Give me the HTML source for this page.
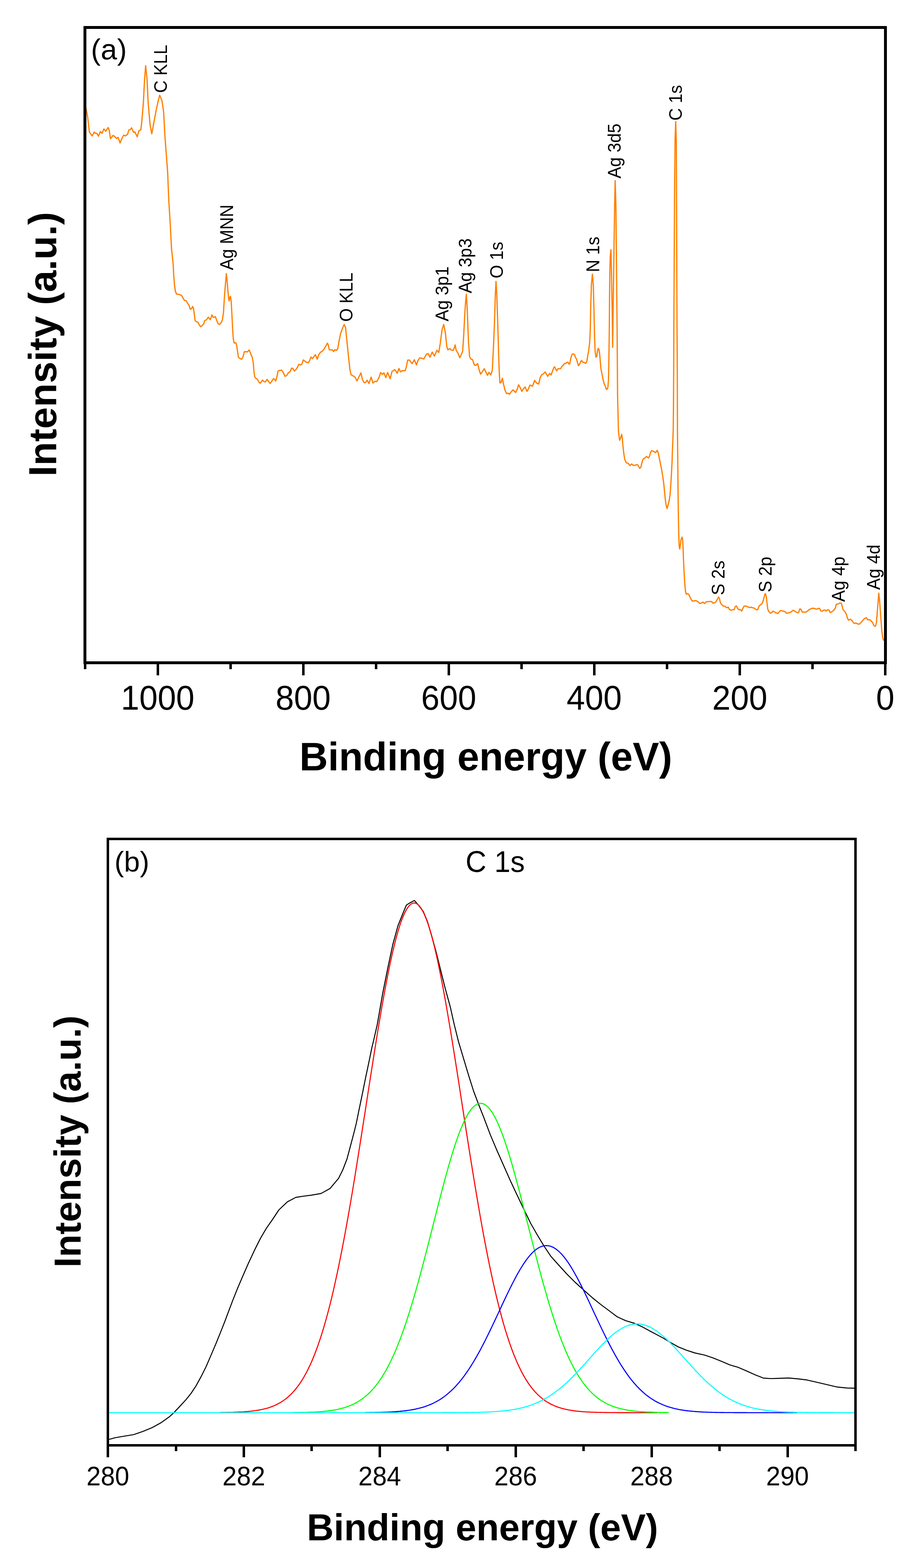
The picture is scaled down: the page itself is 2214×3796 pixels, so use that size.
<!DOCTYPE html>
<html><head><meta charset="utf-8"><title>XPS spectra</title>
<style>
html,body{margin:0;padding:0;background:#fff;}
body{width:2214px;height:3796px;overflow:hidden;}
svg{display:block;font-family:"Liberation Sans",Arial,Helvetica,sans-serif;}
</style></head><body>
<svg width="2214" height="3796" viewBox="0 0 2214 3796">
<rect width="2214" height="3796" fill="#fff"/>
<path d="M207 258L209.5 268.6L212.2 284.2L216.3 319.6L219 323.7L223.1 329.1L227.9 319.6L231.3 323L234.7 323L238.1 329.8L242.9 318.2L246.9 323L251.4 312.1L255.8 317.6L261.9 308.7L264.6 316.9L267.3 335.9L273.5 327.8L277.6 330.5L281.6 335.2L285.7 332.5L290.5 346.1L295.2 334.6L299.3 327.1L303.4 329.1L308.8 325L311.6 314.8L315 314.1L318.4 309.4L323.1 320.3L326.5 319.6L332 331.2L336.1 316.9L340.8 314.1L342.9 296.5L346.9 248.8L349.7 194.4L352.4 159L355.8 191.7L358.5 248.8L363.3 303.3L367.3 323.7L372.8 293.7L378.2 265.2L383 243.4L386.4 230.5L391.8 243.4L395.9 270.6L399.3 333.2L400.8 352.4L405.7 417.8L408.3 483.2L412.3 548.7L414.9 601L419 640L420.4 667.2L422.4 691.7L424.5 705.3L427.2 712.1L434 712.8L439.5 715.5L442.9 721.6L446.3 727.1L451 728.4L453.7 733.9L457.1 738.6L460.5 748.8L463.3 747.5L466 742L468 746.1L470.1 759.7L472.1 776.1L475.5 778.8L478.9 780.1L482.3 786.9L485.7 791L489.8 787.6L493.2 783.5L495.2 776.1L499.3 774.7L504.1 767.9L508.8 774L512.9 762.4L516.3 768.6L521.1 766.5L524.5 776.1L527.9 784.2L531.3 785.6L534.7 781.5L538.1 774.7L540.8 755.6L542.9 721.6L544.9 694.4L546.7 674L547.6 662.5L549 674L551 698.5L553.1 721.6L554.4 728.4L556.5 718.9L557.8 717.6L559.2 728.4L560.5 748.8L561.9 776.1L563.3 803.3L564.6 821L566.7 830.5L570.7 829.8L572.8 837.3L574.8 850.9L576.9 864.5L579.6 867.2L584.4 869.9L587.8 864.5L591.4 851.2L595.9 851.5L598.6 852L603 847.2L606.5 856.4L610.1 864.3L612.7 876.7L614.5 899.7L616.3 912.1L619.8 916.5L623.3 918.3L626 924.5L629.5 928L632.2 924.5L635.2 920.1L638.4 923.6L641.9 924.8L646.3 918.3L649.9 923.6L653.4 928.4L657.8 922.7L661.7 916.5L664.5 918.3L667 922.4L669.3 915.6L672.9 898L677.3 896.5L681.7 896.2L685.2 901.5L689.7 911.2L694.1 908.6L697.6 902.4L702 899.7L705.6 891.2L708.2 891.8L712.7 898.3L717.1 893.5L719.7 889.1L723.3 881.7L726.8 883.8L730.3 882L733.9 871.4L738.3 875L741.8 877.1L746.3 878.1L749.8 871.4L752.4 864.3L756 868.2L759.5 863.5L763 858.7L765.7 864.3L767.5 869.7L771 859L775.4 852.9L779.9 850.2L784.3 844.9L787.8 838.7L792.2 830.7L794 834.3L796.7 846.7L800.2 847L803.7 846.7L807.3 851.1L809.9 846.7L813.5 848.4L817 844.9L820.5 825.4L824.1 807.8L828.5 795.4L832.8 785.6L836.2 793.1L839.7 828.4L843.3 863.8L846.8 895.6L849.5 907.1L853.9 909.8L859.2 913.3L863.6 922.2L868.9 911.6L873.3 902.7L876.9 918.6L881.3 926.6L884.8 925.7L888.4 920.4L892.8 928.4L898.1 913L902.5 927.5L906.9 923.1L911.4 923.9L916.7 915.1L921.1 901.8L925.5 906.3L929 902.7L933.5 914.2L937.9 901.8L944.1 916.9L948.5 899.2L955.6 894.8L960.9 903.6L965.3 892.1L968.8 900.1L973.3 897.4L980.3 897.4L983 888.6L986.5 871.8L991 871.8L997.1 880.6L1002.4 870.9L1007.7 883.3L1011.3 872.6L1015.7 866.5L1020.1 867L1025.4 869.1L1031.6 857.6L1036 855.8L1040.5 864.7L1045.8 852.3L1051.1 862L1057.3 847.9L1061.7 853.2L1065.2 832L1069.6 798.4L1073.6 785.5L1077.6 805.4L1081.1 839L1083.8 847L1087.3 844.4L1088.5 843.9L1092.1 847.5L1096.5 848.4L1099.1 842.2L1101.3 835.1L1103.6 847.5L1108.9 856.3L1112.4 866L1116 859L1119.5 850.1L1122.1 810.3L1124.8 757.3L1126.6 730.7L1128.4 712.2L1130.1 739.6L1131.9 783.8L1133.6 828L1136.3 863.4L1139.8 869.6L1143.4 870.5L1147.8 883.7L1151.3 884.6L1155.7 880.2L1159.3 895.2L1162.8 905.8L1167.2 899.7L1171.7 892.6L1175.6 900.5L1179.6 908.5L1183.2 901.4L1187.6 907.6L1191.1 897L1193.8 845.7L1196.4 783.8L1198.5 713.1L1200.2 681.2L1202.1 713.1L1204.4 783.8L1206.2 845.7L1207.9 898.8L1209.7 927.1L1212.3 926.2L1215.5 915.6L1218.5 930.6L1222.1 944.8L1225.6 952.7L1229.1 951.8L1232.7 954.5L1237.1 948.3L1241.5 943.9L1247.7 950.1L1251.3 943L1254.8 931.5L1258.3 937.7L1262.8 947.4L1266.3 941.2L1270.7 936.8L1275.1 947.4L1278.7 941.2L1282.2 932.4L1288.4 935L1293.7 920.9L1299 928L1303.4 929.7L1307 914.7L1310.5 907.6L1314.9 905L1319.3 900.5L1325.2 911.1L1330 904.1L1333.5 907.6L1337 897.9L1340 890L1342.4 888.2L1344.8 894.2L1347.1 897.7L1350.1 892.4L1353.7 893L1356.7 892.4L1359 887.6L1363.8 882.9L1365.6 879.9L1369.2 879.9L1372.1 876.9L1374.5 876.9L1376.9 881.7L1378.7 880.5L1381.1 867.4L1384 857.9L1387.6 856.7L1390.6 859L1392.4 865.6L1394.8 868.6L1397.1 876.9L1399.5 885.2L1401.9 882.9L1404.9 875.7L1407.3 872.7L1410.2 876.9L1413.8 877.5L1416.8 879.9L1419.8 875.7L1422.1 861.4L1424.5 848.3L1426.9 828.1L1428.2 800L1429.4 740L1431 690L1433.4 663.7L1435.6 690L1437.2 750L1438.6 815L1440 850L1441.9 864.8L1444.3 861.9L1445.7 848.6L1447.6 843.3L1449.5 846.7L1451.4 861L1452.9 880L1454.3 894.3L1456.7 905.7L1459 918.1L1461.9 928.6L1464.8 935.2L1466.7 941.9L1468.6 942.9L1471 937.1L1472.4 918.1L1473.1 880L1473.8 837L1474.4 790L1474.9 720L1475.6 660L1476.6 622L1478.3 604.4L1479.5 657.3L1481.2 748.6L1482.5 841L1483.6 748.6L1484.9 657.3L1486.2 566L1487.3 493L1488.5 437.3L1490.2 493L1491.2 584.3L1492.2 693.8L1493.1 785.1L1493.8 880L1494.3 957.1L1495.4 1000L1496.4 1042.9L1497.7 1053.6L1499.3 1065.9L1501.8 1060.4L1504.2 1051.6L1505.9 1060.4L1507.2 1078.1L1509.3 1097.1L1511.6 1112.1L1515.4 1120.3L1520.1 1121.6L1524.2 1127.1L1528.3 1123.3L1533.1 1127.1L1537.1 1126L1542.6 1125L1545 1128.4L1548 1133.9L1550.7 1131.2L1553.5 1118.9L1556.2 1111.4L1560.3 1108.7L1564.4 1105L1569.1 1108.7L1571.8 1103.9L1573.9 1095.8L1576.6 1091L1580.7 1092.4L1586.1 1095.8L1590.2 1090.3L1592.9 1097.1L1595.6 1110.7L1598.4 1124.4L1601.1 1138L1603.8 1154.3L1605.9 1169.3L1607.9 1189.7L1609.9 1210.1L1612 1223.7L1614 1231.2L1616.7 1222.3L1619.5 1210.1L1621.5 1196.5L1622.9 1176.1L1624.2 1155.6L1625.3 1135.2L1626.3 1114.8L1626.9 1094.4L1628 1067.2L1629 1040L1629.6 980L1630.1 900L1630.6 780L1631.3 640L1632.2 470L1633.4 340L1635 294.4L1636.4 340L1636.9 470L1637.6 640L1638.2 800L1638.8 900L1639.2 1040L1639.9 1108L1640.5 1176L1641.2 1230L1641.7 1261.1L1642.5 1300.4L1643.3 1320.8L1644.7 1329L1646.3 1319.5L1647.7 1307.2L1650.4 1300.4L1651.8 1307.2L1652.9 1327.6L1653.8 1354.8L1654.8 1375.2L1655.9 1395.6L1657.2 1416.1L1658.6 1431L1660.6 1438.5L1664 1437.1L1666.7 1439.2L1669.5 1445.3L1672.2 1450.8L1675.6 1455.5L1680.3 1454.4L1683.7 1454.1L1687.8 1455.8L1690.5 1458.2L1693.9 1461.2L1697.3 1459.9L1700.7 1457.6L1704.8 1461.2L1708.9 1456.9L1714.4 1456.2L1721.8 1456.2L1725.2 1460.3L1730 1458.9L1733.4 1455.5L1736.8 1448.7L1738.8 1445.3L1740.9 1449.4L1742.9 1458.2L1745.6 1463L1749.7 1467.1L1754.5 1467.8L1757.9 1471.2L1762 1469.8L1765.4 1475.9L1768.8 1477.3L1772.9 1475.9L1776.3 1475.9L1779 1468.4L1782.1 1467.1L1785.1 1473.9L1788.5 1475.9L1791.9 1475.9L1794.6 1479.3L1797.3 1473.2L1800.1 1467.8L1804.8 1467.1L1809.6 1469.1L1814.3 1471.2L1817.3 1470L1821 1471.2L1825.3 1472.4L1829.6 1476.1L1833.3 1476.1L1836.9 1466.9L1840 1464.5L1844.3 1460.8L1847.3 1452.2L1850.4 1440L1851.9 1436.9L1854.1 1443.7L1855.9 1459.6L1857.8 1474.9L1860.2 1480.4L1864.5 1484.7L1867.6 1482.9L1869.4 1479.8L1872.4 1480.2L1876.1 1482.9L1882.2 1485.3L1885.9 1480.4L1889 1478L1894.5 1479.2L1898.8 1480.4L1903.1 1484.7L1908 1483.5L1913.5 1481.9L1919 1477.3L1925.1 1481L1930 1483.5L1932.4 1482.9L1934.9 1474.3L1937.3 1474.5L1941.6 1482.2L1944.7 1481.6L1949 1482.2L1953.9 1479.2L1958.8 1475.3L1962.4 1474L1965.5 1472.4L1969.8 1472.8L1974.1 1474.5L1977.7 1474.3L1981.4 1472.4L1983.9 1474.3L1986.3 1479.4L1989.8 1479.4L1993.5 1476.9L1996.5 1476.9L1998.4 1479.4L2002 1476.3L2005.7 1476.9L2008.8 1483L2013.1 1480.6L2017.3 1477.5L2021 1472.6L2023.5 1462.9L2027.8 1462.2L2032 1459.8L2035.7 1460.4L2037.5 1466.5L2040 1476.3L2044.9 1481.2L2048 1487.3L2050.4 1495.9L2052.9 1501.4L2057.8 1499L2062 1503.3L2066.9 1509.4L2070.6 1508.2L2074.3 1510L2079.2 1511.2L2082.9 1507.5L2087.8 1502L2091.4 1497.7L2096.3 1495.3L2100 1500.8L2104.3 1500.2L2108 1503.3L2111.6 1507.5L2114.7 1514.9L2118.4 1516.1L2120.6 1508.2L2122.6 1483.7L2124.5 1459.2L2126.3 1435.9L2128.2 1453.1L2130 1477.5L2131.8 1502L2133.7 1526.5L2136.1 1544.9L2138.6 1551" fill="none" stroke="#FF8000" stroke-width="3.0" stroke-linejoin="round"/>
<rect x="205.5" y="66.5" width="1936.5" height="1538.0" fill="none" stroke="#000" stroke-width="7.0" shape-rendering="crispEdges"/>
<path d="M2142 1604.5V1634.7M1966 1604.5V1620M1789.9 1604.5V1634.7M1613.9 1604.5V1620M1437.8 1604.5V1634.7M1261.8 1604.5V1620M1085.7 1604.5V1634.7M909.7 1604.5V1620M733.6 1604.5V1634.7M557.6 1604.5V1620M381.5 1604.5V1634.7M205.5 1604.5V1620" stroke="#000" stroke-width="6" fill="none" shape-rendering="crispEdges"/>
<text transform="translate(2142 1717.5) scale(1 1.040)" font-size="80" text-anchor="middle">0</text>
<text transform="translate(1789.9 1717.5) scale(1 1.040)" font-size="80" text-anchor="middle">200</text>
<text transform="translate(1437.8 1717.5) scale(1 1.040)" font-size="80" text-anchor="middle">400</text>
<text transform="translate(1085.7 1717.5) scale(1 1.040)" font-size="80" text-anchor="middle">600</text>
<text transform="translate(733.6 1717.5) scale(1 1.040)" font-size="80" text-anchor="middle">800</text>
<text transform="translate(381.5 1717.5) scale(1 1.040)" font-size="80" text-anchor="middle">1000</text>
<text transform="translate(1175.5 1865)" font-size="95.5" text-anchor="middle" font-weight="bold">Binding energy (eV)</text>
<text transform="translate(136 833.3) rotate(-90)" font-size="94.5" text-anchor="middle" font-weight="bold">Intensity (a.u.)</text>
<text transform="translate(220 144)" font-size="71">(a)</text>
<text transform="translate(404 225) rotate(-90) scale(1 1.040)" font-size="42">C KLL</text>
<text transform="translate(564 654) rotate(-90) scale(1 1.040)" font-size="42">Ag MNN</text>
<text transform="translate(853 779) rotate(-90) scale(1 1.040)" font-size="42">O KLL</text>
<text transform="translate(1085 778) rotate(-90) scale(1 1.040)" font-size="42">Ag 3p1</text>
<text transform="translate(1141 710) rotate(-90) scale(1 1.040)" font-size="42">Ag 3p3</text>
<text transform="translate(1217 674) rotate(-90) scale(1 1.040)" font-size="42">O 1s</text>
<text transform="translate(1450 659) rotate(-90) scale(1 1.040)" font-size="42">N 1s</text>
<text transform="translate(1502 432) rotate(-90) scale(1 1.040)" font-size="42">Ag 3d5</text>
<text transform="translate(1650 292) rotate(-90) scale(1 1.040)" font-size="42">C 1s</text>
<text transform="translate(1753 1441) rotate(-90) scale(1 1.040)" font-size="42">S 2s</text>
<text transform="translate(1867 1434) rotate(-90) scale(1 1.040)" font-size="42">S 2p</text>
<text transform="translate(2043.7 1457) rotate(-90) scale(1 1.040)" font-size="42">Ag 4p</text>
<text transform="translate(2129 1428) rotate(-90) scale(1 1.040)" font-size="42">Ag 4d</text>
<path d="M264.1 3484.7L278.4 3480.6L298.8 3477.1L323.3 3473.1L345.8 3465.3L368.2 3456.1L388.6 3444.9L409 3430.6L421.3 3419.4L435.6 3404.1L449.8 3388.8L462.1 3373.5L474.3 3355.1L486.6 3332.7L498.8 3308.2L511.1 3279.6L523.3 3251L535.6 3220.4L543.7 3200L550.4 3182L562.7 3149.4L574.9 3118.8L587.1 3090.2L601.4 3057.6L615.7 3026.9L630 2998.4L644.3 2973.9L658.6 2953.5L674.9 2929L695.3 2909.6L715.7 2898.8L734.1 2895.9L754.5 2893.3L777 2889.2L798.8 2877.1L819.2 2852.7L829.4 2832.2L839.6 2805.7L847.8 2775.1L855.9 2744.5L862 2720L868.2 2689.4L876.3 2650.6L884.5 2609.8L892.7 2571L899.8 2536.3L904.5 2517L912.9 2480L926.1 2404.5L938.4 2343.3L950.6 2286.1L962.9 2241.2L975.1 2210.6L983.3 2191.2L991.4 2186.1L1002.7 2180L1011.8 2190.2L1024.1 2206.5L1034.3 2231L1044.5 2265.7L1054.7 2302.4L1064.9 2343.3L1077.1 2392.2L1089.4 2437.1L1099.2 2480.8L1109.4 2521.6L1121.6 2562.4L1133.9 2603.3L1146.1 2642L1158.4 2674.5L1170.6 2705.3L1186.3 2746.9L1202.7 2785.7L1219 2822.4L1235.3 2859.2L1251.6 2893.9L1268 2928.6L1284.3 2962L1300 2989.5L1316.3 3016.7L1332.7 3041.2L1351 3061.6L1371.4 3084.1L1391.8 3104.5L1412.2 3122.9L1432.7 3141.2L1453.1 3157.6L1473.5 3172.9L1493.9 3188.2L1514.3 3197.3L1534.7 3203.5L1555.1 3212.7L1575.5 3223.9L1590 3231.5L1606.3 3240.2L1622.7 3250.4L1641 3260.6L1661.4 3268.8L1681.8 3275.5L1704.3 3280.4L1724.7 3287.1L1745.1 3295.3L1765.5 3304.1L1785.9 3310.2L1806.3 3318.8L1826.7 3328.2L1847 3336.2L1864 3337.4L1881 3337L1908.2 3336L1932 3338.2L1952.4 3340.8L1974.6 3345.9L2000.1 3351.8L2025.6 3357.8L2049.4 3360.3L2067.2 3360.7" fill="none" stroke="#000" stroke-width="2.4" stroke-linejoin="round"/>
<path d="M532.1 3419.7L536.1 3419.6L540.1 3419.6L544.1 3419.5L548.1 3419.4L552.1 3419.4L556.1 3419.3L560 3419.2L564 3419.1L568 3418.9L572 3418.8L576 3418.6L580 3418.4L584 3418.2L588 3418L592 3417.7L596 3417.4L600 3417.1L604 3416.7L607.9 3416.3L611.9 3415.8L615.9 3415.3L619.9 3414.7L623.9 3414.1L627.9 3413.4L631.9 3412.6L635.9 3411.8L639.9 3410.8L643.9 3409.8L647.9 3408.7L651.9 3407.4L655.9 3406L659.8 3404.5L663.8 3402.9L667.8 3401L671.8 3399.1L675.8 3396.9L679.8 3394.6L683.8 3392L687.8 3389.3L691.8 3386.3L695.8 3383L699.8 3379.5L703.8 3375.7L707.8 3371.6L711.7 3367.2L715.7 3362.4L719.7 3357.3L723.7 3351.9L727.7 3346L731.7 3339.8L735.7 3333.1L739.7 3325.9L743.7 3318.3L747.7 3310.2L751.7 3301.7L755.7 3292.6L759.6 3282.9L763.6 3272.7L767.6 3262L771.6 3250.6L775.6 3238.7L779.6 3226.1L783.6 3212.9L787.6 3199.1L791.6 3184.6L795.6 3169.5L799.6 3153.8L803.6 3137.3L807.6 3120.3L811.5 3102.5L815.5 3084.2L819.5 3065.2L823.5 3045.5L827.5 3025.3L831.5 3004.4L835.5 2983L839.5 2960.9L843.5 2938.4L847.5 2915.4L851.5 2891.9L855.5 2867.9L859.5 2843.5L863.4 2818.8L867.4 2793.8L871.4 2768.5L875.4 2743L879.4 2717.3L883.4 2691.6L887.4 2665.8L891.4 2639.9L895.4 2614.2L899.4 2588.6L903.4 2563.3L907.4 2538.1L911.3 2513.4L915.3 2489L919.3 2465.2L923.3 2441.9L927.3 2419.2L931.3 2397.2L935.3 2376L939.3 2355.6L943.3 2336.1L947.3 2317.5L951.3 2300L955.3 2283.5L959.3 2268.2L963.2 2254L967.2 2241.1L971.2 2229.4L975.2 2219.1L979.2 2210.1L983.2 2202.5L987.2 2196.3L991.2 2191.6L995.2 2188.3L999.2 2186.4L1003.2 2186L1007.2 2187.1L1011.1 2189.7L1015.1 2193.7L1019.1 2199.1L1023.1 2206L1027.1 2214.3L1031.1 2223.9L1035.1 2234.9L1039.1 2247.2L1043.1 2260.7L1047.1 2275.4L1051.1 2291.3L1055.1 2308.3L1059.1 2326.3L1063 2345.4L1067 2365.3L1071 2386.1L1075 2407.7L1079 2430.1L1083 2453.1L1087 2476.7L1091 2500.8L1095 2525.3L1099 2550.2L1103 2575.5L1107 2601L1111 2626.6L1114.9 2652.4L1118.9 2678.2L1122.9 2704L1126.9 2729.8L1130.9 2755.4L1134.9 2780.8L1138.9 2805.9L1142.9 2830.8L1146.9 2855.4L1150.9 2879.5L1154.9 2903.3L1158.9 2926.6L1162.8 2949.4L1166.8 2971.7L1170.8 2993.4L1174.8 3014.6L1178.8 3035.1L1182.8 3055.1L1186.8 3074.4L1190.8 3093.1L1194.8 3111.2L1198.8 3128.6L1202.8 3145.4L1206.8 3161.5L1210.8 3176.9L1214.7 3191.7L1218.7 3205.8L1222.7 3219.4L1226.7 3232.2L1230.7 3244.5L1234.7 3256.2L1238.7 3267.2L1242.7 3277.7L1246.7 3287.6L1250.7 3297L1254.7 3305.9L1258.7 3314.2L1262.6 3322.1L1266.6 3329.4L1270.6 3336.4L1274.6 3342.8L1278.6 3348.9L1282.6 3354.6L1286.6 3359.8L1290.6 3364.8L1294.6 3369.4L1298.6 3373.6L1302.6 3377.6L1306.6 3381.2L1310.6 3384.6L1314.5 3387.7L1318.5 3390.6L1322.5 3393.3L1326.5 3395.7L1330.5 3398L1334.5 3400L1338.5 3401.9L1342.5 3403.7L1346.5 3405.3L1350.5 3406.7L1354.5 3408L1358.5 3409.2L1362.5 3410.3L1366.4 3411.3L1370.4 3412.2L1374.4 3413L1378.4 3413.8L1382.4 3414.4L1386.4 3415L1390.4 3415.6L1394.4 3416.1L1398.4 3416.5L1402.4 3416.9L1406.4 3417.2L1410.4 3417.6L1414.3 3417.8L1418.3 3418.1L1422.3 3418.3L1426.3 3418.5L1430.3 3418.7L1434.3 3418.8L1438.3 3419L1442.3 3419.1L1446.3 3419.2L1450.3 3419.3L1454.3 3419.4L1458.3 3419.5L1462.3 3419.5L1466.2 3419.6L1470.2 3419.7L1474.2 3419.7L1478.2 3419.7L1482.2 3419.8L1486.2 3419.8L1490.2 3419.8L1494.2 3419.9L1498.2 3419.9L1502.2 3419.9L1506.2 3419.9L1510.2 3419.9L1514.2 3419.9L1518.1 3419.9L1522.1 3419.9L1526.1 3420L1530.1 3420L1534.1 3420L1538.1 3420L1542.1 3420L1546.1 3420L1550.1 3420L1554.1 3420L1558.1 3420L1562.1 3420L1566 3420L1570 3420L1574 3420L1578 3420L1582 3420L1586 3420L1590 3420" fill="none" stroke="#FF0000" stroke-width="2.6"/>
<path d="M707 3419.7L711 3419.7L715 3419.6L719 3419.6L723 3419.5L727 3419.4L731 3419.4L735 3419.3L739 3419.2L743 3419.1L747 3418.9L751 3418.8L755 3418.6L759 3418.5L763 3418.3L767 3418L771 3417.8L775 3417.5L779 3417.2L783 3416.9L787 3416.5L791 3416.1L795 3415.6L798.9 3415.1L802.9 3414.5L806.9 3413.9L810.9 3413.2L814.9 3412.4L818.9 3411.6L822.9 3410.6L826.9 3409.6L830.9 3408.5L834.9 3407.3L838.9 3406L842.9 3404.6L846.9 3403L850.9 3401.3L854.9 3399.5L858.9 3397.5L862.9 3395.3L866.9 3393L870.9 3390.4L874.9 3387.7L878.9 3384.8L882.9 3381.7L886.9 3378.3L890.9 3374.7L894.9 3370.8L898.9 3366.7L902.9 3362.3L906.9 3357.6L910.9 3352.6L914.9 3347.3L918.9 3341.6L922.9 3335.7L926.9 3329.3L930.9 3322.7L934.9 3315.6L938.9 3308.2L942.9 3300.5L946.9 3292.3L950.9 3283.7L954.9 3274.8L958.9 3265.4L962.9 3255.6L966.9 3245.5L970.9 3234.9L974.9 3223.9L978.9 3212.5L982.8 3200.8L986.8 3188.6L990.8 3176.1L994.8 3163.2L998.8 3149.9L1002.8 3136.3L1006.8 3122.4L1010.8 3108.1L1014.8 3093.6L1018.8 3078.8L1022.8 3063.8L1026.8 3048.6L1030.8 3033.2L1034.8 3017.6L1038.8 3002L1042.8 2986.2L1046.8 2970.4L1050.8 2954.6L1054.8 2938.8L1058.8 2923.1L1062.8 2907.5L1066.8 2892L1070.8 2876.7L1074.8 2861.7L1078.8 2846.9L1082.8 2832.5L1086.8 2818.4L1090.8 2804.8L1094.8 2791.6L1098.8 2778.8L1102.8 2766.7L1106.8 2755.1L1110.8 2744.1L1114.8 2733.8L1118.8 2724.1L1122.8 2715.2L1126.8 2707L1130.8 2699.6L1134.8 2693L1138.8 2687.2L1142.8 2682.3L1146.8 2678.3L1150.8 2675.1L1154.8 2672.8L1158.8 2671.5L1162.8 2671L1166.7 2671.4L1170.7 2672.8L1174.7 2675L1178.7 2678.2L1182.7 2682.2L1186.7 2687.1L1190.7 2692.8L1194.7 2699.4L1198.7 2706.8L1202.7 2715L1206.7 2723.9L1210.7 2733.5L1214.7 2743.8L1218.7 2754.8L1222.7 2766.4L1226.7 2778.5L1230.7 2791.2L1234.7 2804.4L1238.7 2818.1L1242.7 2832.1L1246.7 2846.6L1250.7 2861.3L1254.7 2876.3L1258.7 2891.6L1262.7 2907.1L1266.7 2922.7L1270.7 2938.4L1274.7 2954.2L1278.7 2970L1282.7 2985.8L1286.7 3001.6L1290.7 3017.3L1294.7 3032.8L1298.7 3048.2L1302.7 3063.4L1306.7 3078.5L1310.7 3093.3L1314.7 3107.8L1318.7 3122L1322.7 3135.9L1326.7 3149.6L1330.7 3162.8L1334.7 3175.7L1338.7 3188.3L1342.7 3200.5L1346.6 3212.2L1350.6 3223.6L1354.6 3234.6L1358.6 3245.2L1362.6 3255.4L1366.6 3265.2L1370.6 3274.5L1374.6 3283.5L1378.6 3292.1L1382.6 3300.3L1386.6 3308.1L1390.6 3315.5L1394.6 3322.5L1398.6 3329.2L1402.6 3335.5L1406.6 3341.5L1410.6 3347.1L1414.6 3352.4L1418.6 3357.4L1422.6 3362.1L1426.6 3366.6L1430.6 3370.7L1434.6 3374.6L1438.6 3378.2L1442.6 3381.6L1446.6 3384.7L1450.6 3387.7L1454.6 3390.4L1458.6 3392.9L1462.6 3395.2L1466.6 3397.4L1470.6 3399.4L1474.6 3401.3L1478.6 3403L1482.6 3404.5L1486.6 3406L1490.6 3407.3L1494.6 3408.5L1498.6 3409.6L1502.6 3410.6L1506.6 3411.5L1510.6 3412.4L1514.6 3413.1L1518.6 3413.8L1522.6 3414.5L1526.6 3415.1L1530.5 3415.6L1534.5 3416L1538.5 3416.5L1542.5 3416.8L1546.5 3417.2L1550.5 3417.5L1554.5 3417.8L1558.5 3418L1562.5 3418.3L1566.5 3418.5L1570.5 3418.6L1574.5 3418.8L1578.5 3418.9L1582.5 3419.1L1586.5 3419.2L1590.5 3419.3L1594.5 3419.4L1598.5 3419.4L1602.5 3419.5L1606.5 3419.6L1610.5 3419.6L1614.5 3419.7L1618.5 3419.7" fill="none" stroke="#00FF00" stroke-width="2.6"/>
<path d="M883 3419.7L887 3419.7L891 3419.7L895 3419.6L899 3419.6L903 3419.5L906.9 3419.5L910.9 3419.4L914.9 3419.3L918.9 3419.2L922.9 3419.1L926.9 3419L930.9 3418.8L934.9 3418.7L938.9 3418.5L942.9 3418.4L946.9 3418.2L950.8 3417.9L954.8 3417.7L958.8 3417.4L962.8 3417.1L966.8 3416.8L970.8 3416.4L974.8 3416L978.8 3415.6L982.8 3415.1L986.8 3414.5L990.8 3414L994.7 3413.3L998.7 3412.6L1002.7 3411.9L1006.7 3411L1010.7 3410.1L1014.7 3409.1L1018.7 3408.1L1022.7 3406.9L1026.7 3405.7L1030.7 3404.3L1034.7 3402.9L1038.6 3401.3L1042.6 3399.7L1046.6 3397.9L1050.6 3395.9L1054.6 3393.9L1058.6 3391.6L1062.6 3389.3L1066.6 3386.8L1070.6 3384.1L1074.6 3381.2L1078.6 3378.2L1082.5 3375L1086.5 3371.6L1090.5 3368.1L1094.5 3364.3L1098.5 3360.3L1102.5 3356.1L1106.5 3351.7L1110.5 3347.1L1114.5 3342.3L1118.5 3337.2L1122.5 3332L1126.4 3326.5L1130.4 3320.8L1134.4 3314.9L1138.4 3308.7L1142.4 3302.4L1146.4 3295.8L1150.4 3289L1154.4 3282.1L1158.4 3274.9L1162.4 3267.6L1166.3 3260L1170.3 3252.3L1174.3 3244.5L1178.3 3236.5L1182.3 3228.4L1186.3 3220.1L1190.3 3211.8L1194.3 3203.3L1198.3 3194.9L1202.3 3186.3L1206.3 3177.8L1210.2 3169.2L1214.2 3160.6L1218.2 3152.1L1222.2 3143.6L1226.2 3135.2L1230.2 3127L1234.2 3118.8L1238.2 3110.8L1242.2 3103L1246.2 3095.3L1250.2 3087.9L1254.1 3080.8L1258.1 3073.9L1262.1 3067.3L1266.1 3061L1270.1 3055L1274.1 3049.4L1278.1 3044.2L1282.1 3039.4L1286.1 3034.9L1290.1 3030.9L1294.1 3027.3L1298 3024.2L1302 3021.6L1306 3019.4L1310 3017.7L1314 3016.5L1318 3015.7L1322 3015.5L1326 3015.8L1330 3016.5L1334 3017.8L1338 3019.5L1341.9 3021.7L1345.9 3024.4L1349.9 3027.5L1353.9 3031.1L1357.9 3035.1L1361.9 3039.6L1365.9 3044.4L1369.9 3049.7L1373.9 3055.3L1377.9 3061.3L1381.9 3067.6L1385.8 3074.2L1389.8 3081.1L1393.8 3088.3L1397.8 3095.7L1401.8 3103.3L1405.8 3111.2L1409.8 3119.2L1413.8 3127.3L1417.8 3135.6L1421.8 3144L1425.8 3152.5L1429.7 3161L1433.7 3169.6L1437.7 3178.2L1441.7 3186.7L1445.7 3195.3L1449.7 3203.7L1453.7 3212.2L1457.7 3220.5L1461.7 3228.7L1465.7 3236.9L1469.7 3244.8L1473.6 3252.7L1477.6 3260.4L1481.6 3267.9L1485.6 3275.2L1489.6 3282.4L1493.6 3289.4L1497.6 3296.1L1501.6 3302.7L1505.6 3309L1509.6 3315.2L1513.6 3321.1L1517.5 3326.8L1521.5 3332.2L1525.5 3337.5L1529.5 3342.5L1533.5 3347.3L1537.5 3351.9L1541.5 3356.3L1545.5 3360.5L1549.5 3364.5L1553.5 3368.2L1557.5 3371.8L1561.4 3375.2L1565.4 3378.4L1569.4 3381.4L1573.4 3384.2L1577.4 3386.9L1581.4 3389.4L1585.4 3391.8L1589.4 3394L1593.4 3396L1597.4 3397.9L1601.4 3399.7L1605.3 3401.4L1609.3 3403L1613.3 3404.4L1617.3 3405.7L1621.3 3407L1625.3 3408.1L1629.3 3409.2L1633.3 3410.2L1637.3 3411.1L1641.3 3411.9L1645.3 3412.7L1649.2 3413.4L1653.2 3414L1657.2 3414.6L1661.2 3415.1L1665.2 3415.6L1669.2 3416L1673.2 3416.4L1677.2 3416.8L1681.2 3417.1L1685.2 3417.4L1689.1 3417.7L1693.1 3417.9L1697.1 3418.2L1701.1 3418.4L1705.1 3418.5L1709.1 3418.7L1713.1 3418.9L1717.1 3419L1721.1 3419.1L1725.1 3419.2L1729.1 3419.3L1733 3419.4L1737 3419.5L1741 3419.5L1745 3419.6L1749 3419.6L1753 3419.7L1757 3419.7L1761 3419.8L1765 3419.8L1769 3419.8L1773 3419.8L1776.9 3419.9L1780.9 3419.9L1784.9 3419.9L1788.9 3419.9L1792.9 3419.9L1796.9 3419.9L1800.9 3419.9L1804.9 3419.9L1808.9 3420L1812.9 3420L1816.9 3420L1820.8 3420L1824.8 3420L1828.8 3420L1832.8 3420L1836.8 3420L1840.8 3420L1844.8 3420L1848.8 3420L1852.8 3420L1856.8 3420L1860.8 3420L1864.7 3420L1868.7 3420L1872.7 3420L1876.7 3420L1880.7 3420L1884.7 3420L1888.7 3420L1892.7 3420L1896.7 3420L1900.7 3420L1904.7 3420L1908.6 3420L1912.6 3420L1916.6 3420L1920.6 3420L1924.6 3420L1928.6 3420" fill="none" stroke="#0000FF" stroke-width="2.6"/>
<path d="M264 3420L268 3420L272 3420L276 3420L280 3420L284 3420L288 3420L292 3420L296 3420L300 3420L304 3420L308 3420L312 3420L316 3420L320 3420L324 3420L328 3420L332 3420L336 3420L340 3420L344 3420L348 3420L352 3420L356 3420L360 3420L364 3420L368 3420L372 3420L376 3420L379.9 3420L383.9 3420L387.9 3420L391.9 3420L395.9 3420L399.9 3420L403.9 3420L407.9 3420L411.9 3420L415.9 3420L419.9 3420L423.9 3420L427.9 3420L431.9 3420L435.9 3420L439.9 3420L443.9 3420L447.9 3420L451.9 3420L455.9 3420L459.9 3420L463.9 3420L467.9 3420L471.9 3420L475.9 3420L479.9 3420L483.9 3420L487.9 3420L491.9 3420L495.9 3420L499.9 3420L503.9 3420L507.9 3420L511.9 3420L515.9 3420L519.9 3420L523.9 3420L527.9 3420L531.9 3420L535.9 3420L539.9 3420L543.9 3420L547.9 3420L551.9 3420L555.9 3420L559.9 3420L563.9 3420L567.9 3420L571.9 3420L575.9 3420L579.9 3420L583.9 3420L587.9 3420L591.9 3420L595.9 3420L599.9 3420L603.8 3420L607.8 3420L611.8 3420L615.8 3420L619.8 3420L623.8 3420L627.8 3420L631.8 3420L635.8 3420L639.8 3420L643.8 3420L647.8 3420L651.8 3420L655.8 3420L659.8 3420L663.8 3420L667.8 3420L671.8 3420L675.8 3420L679.8 3420L683.8 3420L687.8 3420L691.8 3420L695.8 3420L699.8 3420L703.8 3420L707.8 3420L711.8 3420L715.8 3420L719.8 3420L723.8 3420L727.8 3420L731.8 3420L735.8 3420L739.8 3420L743.8 3420L747.8 3420L751.8 3420L755.8 3420L759.8 3420L763.8 3420L767.8 3420L771.8 3420L775.8 3420L779.8 3420L783.8 3420L787.8 3420L791.8 3420L795.8 3420L799.8 3420L803.8 3420L807.8 3420L811.8 3420L815.8 3420L819.8 3420L823.8 3420L827.7 3420L831.7 3420L835.7 3420L839.7 3420L843.7 3420L847.7 3420L851.7 3420L855.7 3420L859.7 3420L863.7 3420L867.7 3420L871.7 3420L875.7 3420L879.7 3420L883.7 3420L887.7 3420L891.7 3420L895.7 3420L899.7 3420L903.7 3420L907.7 3420L911.7 3420L915.7 3420L919.7 3420L923.7 3420L927.7 3420L931.7 3420L935.7 3420L939.7 3420L943.7 3420L947.7 3420L951.7 3420L955.7 3420L959.7 3420L963.7 3420L967.7 3420L971.7 3420L975.7 3420L979.7 3420L983.7 3420L987.7 3420L991.7 3420L995.7 3420L999.7 3420L1003.7 3420L1007.7 3420L1011.7 3420L1015.7 3420L1019.7 3420L1023.7 3420L1027.7 3420L1031.7 3420L1035.7 3420L1039.7 3420L1043.7 3420L1047.7 3420L1051.7 3420L1055.6 3420L1059.6 3420L1063.6 3420L1067.6 3420L1071.6 3419.9L1075.6 3419.9L1079.6 3419.9L1083.6 3419.9L1087.6 3419.9L1091.6 3419.9L1095.6 3419.9L1099.6 3419.9L1103.6 3419.8L1107.6 3419.8L1111.6 3419.8L1115.6 3419.8L1119.6 3419.7L1123.6 3419.7L1127.6 3419.6L1131.6 3419.6L1135.6 3419.5L1139.6 3419.5L1143.6 3419.4L1147.6 3419.3L1151.6 3419.3L1155.6 3419.2L1159.6 3419.1L1163.6 3419L1167.6 3418.8L1171.6 3418.7L1175.6 3418.5L1179.6 3418.4L1183.6 3418.2L1187.6 3418L1191.6 3417.8L1195.6 3417.5L1199.6 3417.3L1203.6 3417L1207.6 3416.6L1211.6 3416.3L1215.6 3415.9L1219.6 3415.5L1223.6 3415.1L1227.6 3414.6L1231.6 3414L1235.6 3413.5L1239.6 3412.8L1243.6 3412.2L1247.6 3411.4L1251.6 3410.7L1255.6 3409.8L1259.6 3408.9L1263.6 3408L1267.6 3406.9L1271.6 3405.8L1275.6 3404.7L1279.5 3403.4L1283.5 3402.1L1287.5 3400.6L1291.5 3399.1L1295.5 3397.5L1299.5 3395.8L1303.5 3394L1307.5 3392.1L1311.5 3390.2L1315.5 3388.1L1319.5 3385.8L1323.5 3383.5L1327.5 3381.1L1331.5 3378.6L1335.5 3375.9L1339.5 3373.1L1343.5 3370.3L1347.5 3367.3L1351.5 3364.2L1355.5 3360.9L1359.5 3357.6L1363.5 3354.2L1367.5 3350.6L1371.5 3347L1375.5 3343.2L1379.5 3339.4L1383.5 3335.4L1387.5 3331.4L1391.5 3327.3L1395.5 3323.1L1399.5 3318.8L1403.5 3314.5L1407.5 3310.1L1411.5 3305.7L1415.5 3301.3L1419.5 3296.8L1423.5 3292.3L1427.5 3287.8L1431.5 3283.3L1435.5 3278.9L1439.5 3274.4L1443.5 3270L1447.5 3265.6L1451.5 3261.3L1455.5 3257.1L1459.5 3253L1463.5 3248.9L1467.5 3245L1471.5 3241.2L1475.5 3237.5L1479.5 3234L1483.5 3230.6L1487.5 3227.4L1491.5 3224.4L1495.5 3221.6L1499.5 3219L1503.5 3216.5L1507.4 3214.3L1511.4 3212.4L1515.4 3210.6L1519.4 3209.1L1523.4 3207.8L1527.4 3206.8L1531.4 3206L1535.4 3205.5L1539.4 3205.2L1543.4 3205.2L1547.4 3205.5L1551.4 3206L1555.4 3206.7L1559.4 3207.7L1563.4 3209L1567.4 3210.5L1571.4 3212.2L1575.4 3214.2L1579.4 3216.4L1583.4 3218.8L1587.4 3221.4L1591.4 3224.2L1595.4 3227.2L1599.4 3230.4L1603.4 3233.7L1607.4 3237.2L1611.4 3240.9L1615.4 3244.7L1619.4 3248.6L1623.4 3252.6L1627.4 3256.8L1631.4 3261L1635.4 3265.3L1639.4 3269.6L1643.4 3274L1647.4 3278.5L1651.4 3283L1655.4 3287.4L1659.4 3291.9L1663.4 3296.4L1667.4 3300.9L1671.4 3305.4L1675.4 3309.8L1679.4 3314.2L1683.4 3318.5L1687.4 3322.7L1691.4 3326.9L1695.4 3331L1699.4 3335.1L1703.4 3339L1707.4 3342.9L1711.4 3346.7L1715.4 3350.3L1719.4 3353.9L1723.4 3357.3L1727.4 3360.7L1731.3 3363.9L1735.3 3367L1739.3 3370L1743.3 3372.9L1747.3 3375.7L1751.3 3378.3L1755.3 3380.9L1759.3 3383.3L1763.3 3385.7L1767.3 3387.9L1771.3 3390L1775.3 3392L1779.3 3393.9L1783.3 3395.7L1787.3 3397.4L1791.3 3399L1795.3 3400.5L1799.3 3401.9L1803.3 3403.3L1807.3 3404.6L1811.3 3405.7L1815.3 3406.9L1819.3 3407.9L1823.3 3408.9L1827.3 3409.8L1831.3 3410.6L1835.3 3411.4L1839.3 3412.1L1843.3 3412.8L1847.3 3413.4L1851.3 3414L1855.3 3414.5L1859.3 3415L1863.3 3415.5L1867.3 3415.9L1871.3 3416.3L1875.3 3416.6L1879.3 3416.9L1883.3 3417.2L1887.3 3417.5L1891.3 3417.8L1895.3 3418L1899.3 3418.2L1903.3 3418.4L1907.3 3418.5L1911.3 3418.7L1915.3 3418.8L1919.3 3418.9L1923.3 3419.1L1927.3 3419.2L1931.3 3419.3L1935.3 3419.3L1939.3 3419.4L1943.3 3419.5L1947.3 3419.5L1951.3 3419.6L1955.2 3419.6L1959.2 3419.7L1963.2 3419.7L1967.2 3419.7L1971.2 3419.8L1975.2 3419.8L1979.2 3419.8L1983.2 3419.9L1987.2 3419.9L1991.2 3419.9L1995.2 3419.9L1999.2 3419.9L2003.2 3419.9L2007.2 3419.9L2011.2 3419.9L2015.2 3419.9L2019.2 3420L2023.2 3420L2027.2 3420L2031.2 3420L2035.2 3420L2039.2 3420L2043.2 3420L2047.2 3420L2051.2 3420L2055.2 3420L2059.2 3420L2063.2 3420L2067.2 3420" fill="none" stroke="#00FFFF" stroke-width="2.6"/>
<rect x="261" y="2031" width="1809" height="1467.5" fill="none" stroke="#000" stroke-width="6" shape-rendering="crispEdges"/>
<path d="M261 3498.5V3527.5M425.5 3498.5V3512.7M589.9 3498.5V3527.5M754.4 3498.5V3512.7M918.8 3498.5V3527.5M1083.3 3498.5V3512.7M1247.7 3498.5V3527.5M1412.2 3498.5V3512.7M1576.6 3498.5V3527.5M1741.1 3498.5V3512.7M1905.5 3498.5V3527.5M2070 3498.5V3512.7" stroke="#000" stroke-width="6" fill="none" shape-rendering="crispEdges"/>
<text transform="translate(261 3596) scale(1 1.040)" font-size="62" text-anchor="middle">280</text>
<text transform="translate(589.9 3596) scale(1 1.040)" font-size="62" text-anchor="middle">282</text>
<text transform="translate(918.8 3596) scale(1 1.040)" font-size="62" text-anchor="middle">284</text>
<text transform="translate(1247.7 3596) scale(1 1.040)" font-size="62" text-anchor="middle">286</text>
<text transform="translate(1576.6 3596) scale(1 1.040)" font-size="62" text-anchor="middle">288</text>
<text transform="translate(1905.5 3596) scale(1 1.040)" font-size="62" text-anchor="middle">290</text>
<text transform="translate(1167.5 3729)" font-size="90" text-anchor="middle" font-weight="bold">Binding energy (eV)</text>
<text transform="translate(195 2763.4) rotate(-90)" font-size="90" text-anchor="middle" font-weight="bold">Intensity (a.u.)</text>
<text transform="translate(277 2109.6)" font-size="69">(b)</text>
<text transform="translate(1198.1 2110.7) scale(1 1.030)" font-size="69.7" text-anchor="middle">C 1s</text>
</svg>
</body></html>
